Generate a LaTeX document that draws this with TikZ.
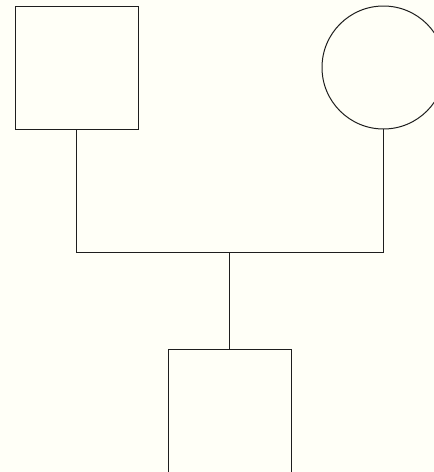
\documentclass[tikz,border=0pt]{standalone}
\definecolor{bgcream}{RGB}{255,255,247}
\definecolor{linegray}{RGB}{30,30,30}
\begin{document}
\begin{tikzpicture}[x=1pt,y=1pt,
  person/.style={draw=linegray,line width=1pt,inner sep=0pt,outer sep=0pt,fill=bgcream},
  male/.style={person,rectangle,minimum size=123pt},
  female/.style={person,circle,minimum size=123pt},
  link/.style={draw=linegray,line width=1pt}]
\fill[bgcream] (0,0) rectangle (434,-472);
\useasboundingbox (0,0) rectangle (434,-472);
\node[male] (f) at (76.5,-67.5) {};
\node[female] (m) at (383.5,-67.5) {};
\node[male] (c) at (229.5,-410.5) {};
\coordinate (j) at (229.5,-252);
\draw[link] (f.south) -- (f.south |- j) -- (m.south |- j) -- (m.south);
\draw[link] (j) -- (c.north);
\end{tikzpicture}
\end{document}
